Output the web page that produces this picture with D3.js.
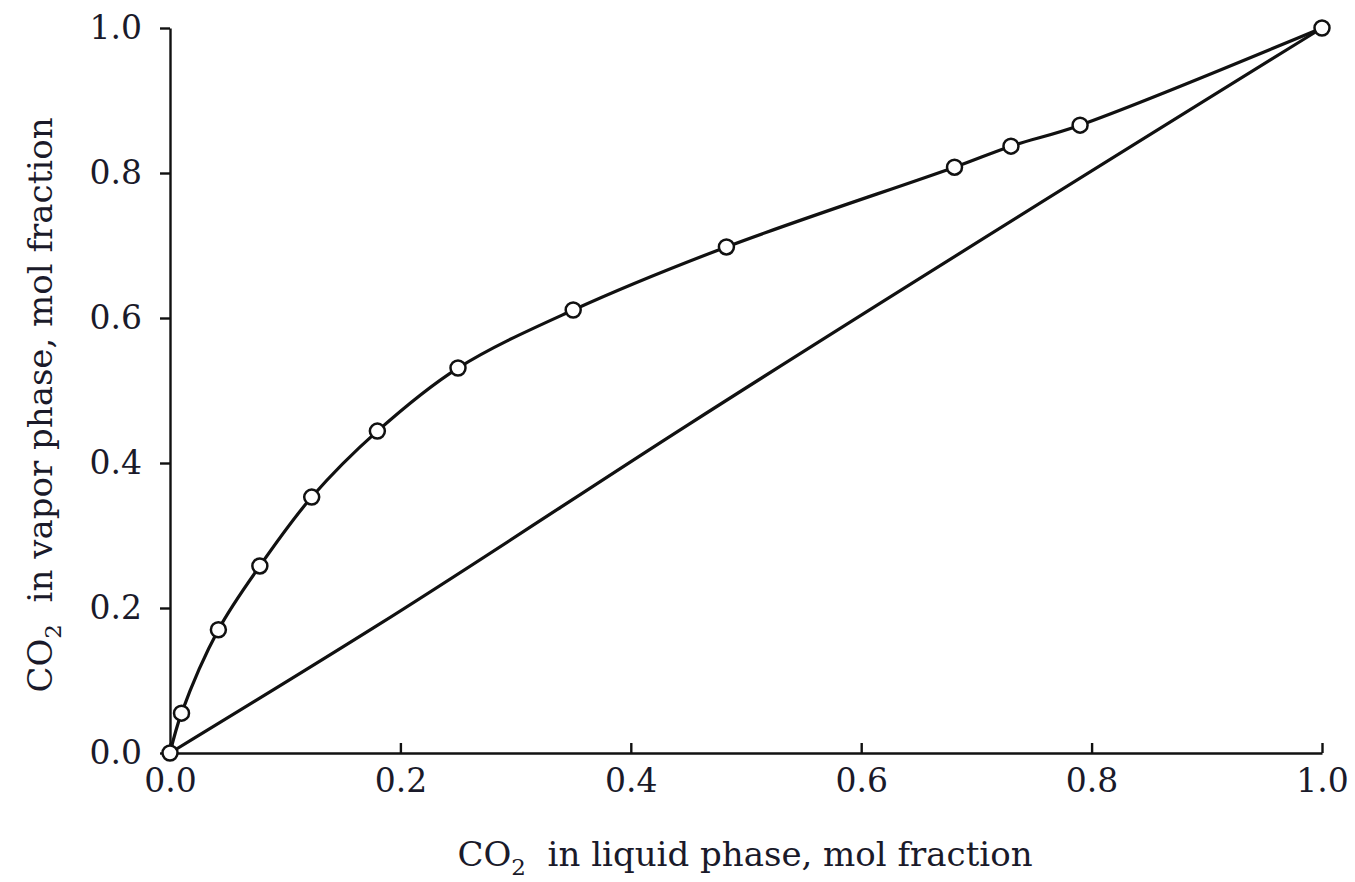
<!DOCTYPE html>
<html>
<head>
<meta charset="utf-8">
<script src="https://cdn.jsdelivr.net/npm/d3@7"></script>
<style>
  html, body { margin: 0; padding: 0; background: #fff; }
  svg { display: block; }
  .axis path, .axis line { stroke: #111; stroke-width: 2.4; }
  .axis text { font-family: "DejaVu Serif", serif; font-size: 33px; fill: #1a1a2a; }
  .label { font-family: "DejaVu Serif", serif; font-size: 34px; fill: #1a1a2a; }
</style>
</head>
<body>
<svg id="chart" width="1355" height="882"></svg>
<script>
  // CO2 mol fraction: liquid (x) vs vapor (y)
  var liquidX = [0.0, 0.010, 0.042, 0.078, 0.123, 0.180, 0.250, 0.350, 0.483, 0.681, 0.730, 0.790, 1.0];
  var vaporY  = [0.0, 0.055, 0.170, 0.258, 0.353, 0.444, 0.531, 0.611, 0.698, 0.808, 0.837, 0.866, 1.0];

  // reference diagonal (x = y), as drawn
  var diagX = [0.0, 0.18, 0.45, 1.0];
  var diagY = [0.0, 0.176, 0.453, 1.0];

  var xTicks = [0.0, 0.2, 0.4, 0.6, 0.8, 1.0];
  var yTicks = [0.0, 0.2, 0.4, 0.6, 0.8, 1.0];

  var svg = d3.select('#chart');

  var x = d3.scaleLinear().domain([0, 1]).range([170, 1322]);
  var y = d3.scaleLinear().domain([0, 1]).range([753, 28]);

  // axes
  svg.append('g')
    .attr('class', 'axis')
    .attr('transform', 'translate(0,' + y(0) + ')')
    .call(d3.axisBottom(x).tickValues(xTicks).tickFormat(d3.format('.1f'))
      .tickSizeInner(-10).tickSizeOuter(0).tickPadding(16));

  svg.append('g')
    .attr('class', 'axis')
    .attr('transform', 'translate(' + x(0) + ',0)')
    .call(d3.axisLeft(y).tickValues(yTicks).tickFormat(d3.format('.1f'))
      .tickSizeInner(10).tickSizeOuter(0).tickPadding(18));

  // diagonal
  var diag = diagX.map(function (d, i) { return [d, diagY[i]]; });
  svg.append('path')
    .datum(diag)
    .attr('fill', 'none')
    .attr('stroke', '#111')
    .attr('stroke-width', 3.2)
    .attr('d', d3.line().curve(d3.curveMonotoneX)
      .x(function (d) { return x(d[0]); }).y(function (d) { return y(d[1]); }));

  // equilibrium curve
  var pts = liquidX.map(function (d, i) { return [d, vaporY[i]]; });
  svg.append('path')
    .datum(pts)
    .attr('fill', 'none')
    .attr('stroke', '#111')
    .attr('stroke-width', 3.2)
    .attr('d', d3.line().curve(d3.curveCatmullRom.alpha(0.5))
      .x(function (d) { return x(d[0]); }).y(function (d) { return y(d[1]); }));

  svg.selectAll('circle.pt')
    .data(pts)
    .join('circle')
    .attr('class', 'pt')
    .attr('cx', function (d) { return x(d[0]); })
    .attr('cy', function (d) { return y(d[1]); })
    .attr('r', 7.5)
    .attr('fill', '#fff')
    .attr('stroke', '#111')
    .attr('stroke-width', 2.5);

  // axis titles
  function title(g, rest) {
    g.append('tspan').text('CO');
    g.append('tspan').attr('font-size', '23px').attr('dy', 9).text('2');
    g.append('tspan').attr('dy', -9).text('\u00a0 ' + rest);
  }

  var xt = svg.append('text')
    .attr('class', 'label')
    .attr('x', 745).attr('y', 866)
    .attr('text-anchor', 'middle');
  title(xt, 'in liquid phase, mol fraction');

  var yt = svg.append('text')
    .attr('class', 'label')
    .attr('transform', 'translate(52,405) rotate(-90)')
    .attr('text-anchor', 'middle');
  title(yt, 'in vapor phase, mol fraction');
</script>
</body>
</html>
